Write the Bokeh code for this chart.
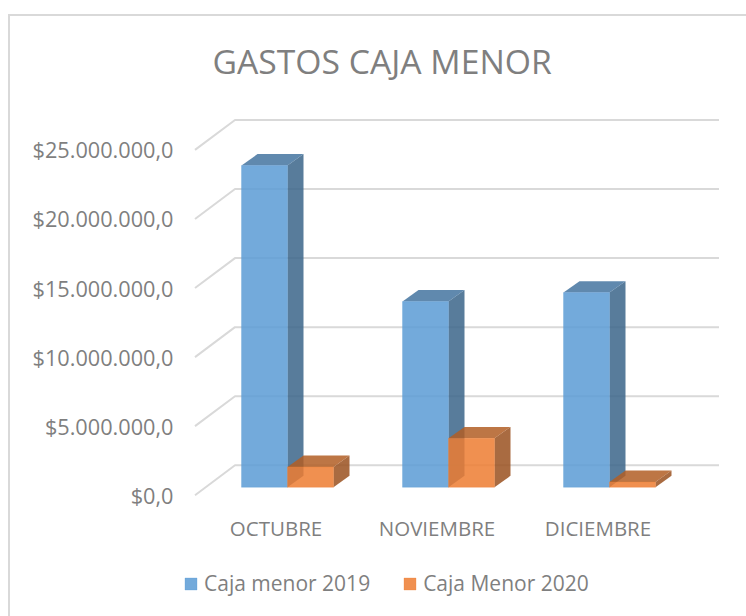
from bokeh.embed import file_html
from bokeh.resources import INLINE
from bokeh.plotting import figure
from bokeh.models import FixedTicker, Legend, LegendItem, Range1d, LinearAxis

CATEGORIES = ["OCTUBRE", "NOVIEMBRE", "DICIEMBRE"]
CAJA_2019 = [23290000, 13440000, 14090000]
CAJA_2020 = [1470000, 3540000, 380000]
Y_TICKS = [0, 5000000, 10000000, 15000000, 20000000, 25000000]
Y_LABELS = ["$0,0", "$5.000.000,0", "$10.000.000,0", "$15.000.000,0", "$20.000.000,0", "$25.000.000,0"]
SERIES_NAMES = ["Caja menor 2019", "Caja Menor 2020"]

FONT = "Open Sans"
GREY = "#7f7f7f"
W, H = 736, 600
ML, MR, MT, MB = 168, 6, 84, 0
F_L, F_R, F_T, F_B = 178.5, 742.5, 99.5, 618.5     # frame edges in page pixels
CAT_PX, VAL_PX = 161.0, 69.2 / 5000000.0
ZERO_X, ZERO_Y = 276, 495
px = 1 / CAT_PX
py = 1 / VAL_PX

p = figure(width=W, height=H, output_backend="svg", toolbar_location=None,
           x_range=Range1d((F_L - ZERO_X) * px, (F_R - ZERO_X) * px),
           y_range=Range1d((ZERO_Y - F_B) * py, (ZERO_Y - F_T) * py),
           min_border_left=ML, min_border_right=MR, min_border_top=MT, min_border_bottom=MB,
           x_axis_type=None, y_axis_type=None, outline_line_color=None,
           background_fill_color="white", border_fill_color="white")
p.margin = (14, 0, 0, 8)
p.styles = {"border-top": "2px solid #d9d9d9", "border-left": "2px solid #d9d9d9", "box-sizing": "content-box"}
p.grid.visible = False

p.title.text = "GASTOS CAJA MENOR"
p.title.text_font = FONT
p.title.text_font_size = "33.7px"
p.title.text_font_style = "normal"
p.title.text_color = GREY
p.title.align = "left"
p.title.offset = 34
p.title.standoff = 33

yax = LinearAxis(ticker=FixedTicker(ticks=Y_TICKS),
                 major_label_overrides=dict(zip(Y_TICKS, Y_LABELS)),
                 axis_line_color=None, major_tick_line_color=None, minor_tick_line_color=None,
                 major_tick_in=0, major_tick_out=0,
                 major_label_text_font=FONT, major_label_text_font_size="21.7px",
                 major_label_text_color=GREY, major_label_standoff=5)
p.add_layout(yax, "left")

xticks = list(range(len(CATEGORIES)))
xax = LinearAxis(ticker=FixedTicker(ticks=xticks),
                 major_label_overrides=dict(zip(xticks, CATEGORIES)),
                 axis_line_color=None, major_tick_line_color=None, minor_tick_line_color=None,
                 major_tick_in=0, major_tick_out=0,
                 major_label_text_font=FONT, major_label_text_font_size="20.5px",
                 major_label_text_color=GREY, major_label_standoff=-105)
p.add_layout(xax, "below")

# wall grid: diagonal on the side wall + horizontal on the back wall
x0, x1, x2 = (195 - ZERO_X) * px, (235 - ZERO_X) * px, (719 - ZERO_X) * px
gx, gy = [], []
for t in Y_TICKS:
    gx.append([x0, x1, x2])
    gy.append([t, t + 30 * py, t + 30 * py])
p.multi_line(gx, gy, line_color="#d9d9d9", line_width=2)

BW = 46 * px
DX, DY = 16 * px, 11.5 * py
SHIFT = 11.5 * px
BASE = 8 * py
STYLES = [("#5B9BD5", "#3B658A", "#4474A0"), ("#ED7D31", "#9A5120", "#B25E25")]
ALPHA = 0.85

front = [[], []]
for s, vals in enumerate([CAJA_2019, CAJA_2020]):
    for i, v in enumerate(vals):
        l = i + SHIFT + (s - 1) * BW
        r = l + BW
        b, t = BASE, BASE + v
        col, side, top = STYLES[s]
        p.patch([r, r + DX, r + DX, r], [b, b + DY, t + DY, t], fill_color=side, fill_alpha=ALPHA, line_color=None)
        p.patch([l, l + DX, r + DX, r], [t, t + DY, t + DY, t], fill_color=top, fill_alpha=ALPHA, line_color=None)
        g = p.quad(left=[l], right=[r], bottom=[b], top=[t], fill_color=col, fill_alpha=ALPHA,
                   line_color=col, line_alpha=0.3, line_width=1)
        front[s].append(g)

legend = Legend(items=[LegendItem(label=SERIES_NAMES[0], renderers=[front[0][0]]),
                       LegendItem(label=SERIES_NAMES[1], renderers=[front[1][0]])],
                orientation="horizontal", location=(5, 21), border_line_color=None,
                background_fill_alpha=0, glyph_width=15, glyph_height=15, spacing=32,
                label_text_font=FONT, label_text_font_size="21px", label_text_color=GREY,
                label_standoff=6, margin=0, padding=0)
p.add_layout(legend)

open("out.html", "w").write(file_html(p, INLINE))
